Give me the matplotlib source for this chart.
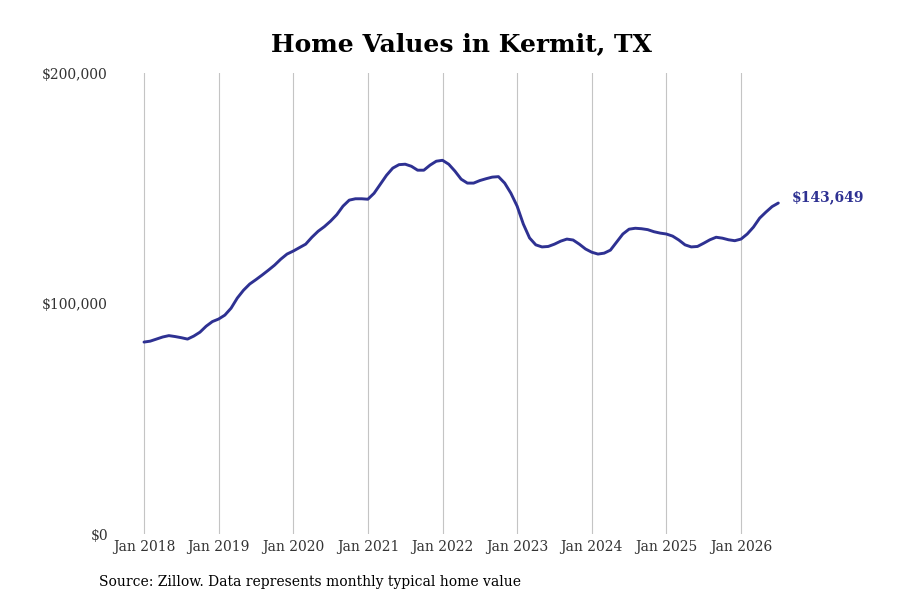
import numpy as np
import matplotlib
matplotlib.use('Agg')
from matplotlib import pyplot as plt
from matplotlib.ticker import FuncFormatter

# monthly typical home value, Jan 2018 .. Jul 2026 (thousands of $)
values_k = [
    83.3, 83.7, 84.6, 85.5, 86.1, 85.7, 85.2, 84.6, 85.9, 87.6, 90.2, 92.2,   # 2018
    93.3, 95.0, 98.0, 102.4, 105.8, 108.5, 110.4, 112.4, 114.5, 116.7, 119.3, 121.5,  # 2019
    122.8, 124.3, 125.8, 128.8, 131.4, 133.4, 135.8, 138.6, 142.3, 144.9, 145.5, 145.5,  # 2020
    145.3, 147.9, 151.8, 155.7, 158.8, 160.3, 160.5, 159.6, 157.9, 157.9, 160.1, 161.8,  # 2021
    162.2, 160.5, 157.5, 154.0, 152.3, 152.3, 153.4, 154.2, 154.9, 155.1, 152.3, 147.9,  # 2022
    142.3, 134.5, 128.5, 125.5, 124.6, 124.8, 125.8, 127.1, 128.0, 127.6, 125.8, 123.7,  # 2023
    122.3, 121.5, 121.9, 123.2, 126.7, 130.2, 132.3, 132.7, 132.5, 132.1, 131.2, 130.6,  # 2024
    130.2, 129.3, 127.6, 125.5, 124.6, 124.8, 126.2, 127.7, 128.8, 128.4, 127.7, 127.3,  # 2025
    128.0, 130.2, 133.2, 137.1, 139.7, 142.1, 143.649,                                   # 2026
]
values = np.array(values_k) * 1000
months = np.arange(len(values))

year_labels = ['Jan 2018', 'Jan 2019', 'Jan 2020', 'Jan 2021', 'Jan 2022',
               'Jan 2023', 'Jan 2024', 'Jan 2025', 'Jan 2026']
year_ticks = np.arange(len(year_labels)) * 12

y_ticks = [0, 100000, 200000]

title = 'Home Values in Kermit, TX'
source = 'Source: Zillow. Data represents monthly typical home value'
last_label = '$143,649'

line_color = '#2e3192'
plt.rcParams['font.family'] = ['DejaVu Serif']

fig = plt.figure(figsize=(9, 6), dpi=100)
ax = fig.add_axes([0.13, 0.11, 0.77, 0.768])

ax.plot(months, values, color=line_color, lw=2.1, solid_capstyle='round')

# x: Jan 2018 at px 144, Jan 2026 at px 741
ppm = (741 - 144) / 96
ax.set_xlim((117 - 144) / ppm, (810 - 144) / ppm)
ax.set_ylim(0, 200000)

ax.set_xticks(year_ticks)
ax.set_xticklabels(year_labels)
ax.set_yticks(y_ticks)
ax.yaxis.set_major_formatter(FuncFormatter(lambda v, p: f'${v:,.0f}'))
ax.tick_params(axis='both', length=0, labelsize=10, colors='#333333')
ax.tick_params(axis='y', pad=6.5)
ax.tick_params(axis='x', pad=4)

ax.grid(axis='x', color='#c4c4c4', lw=0.8)
ax.grid(axis='y', visible=False)
for s in ax.spines.values():
    s.set_visible(False)

ax.annotate(last_label, xy=(months[-1], values[-1]), xytext=(10, 4),
            textcoords='offset points', ha='left', va='center',
            color=line_color, fontsize=10, fontweight='bold')

fig.text(0.513, 0.926, title, ha='center', va='center', fontsize=18,
         fontweight='bold', color='black')
fig.text(0.11, 0.03, source, ha='left', va='center', fontsize=10, color='black')

fig.savefig('out.png', dpi=100)
